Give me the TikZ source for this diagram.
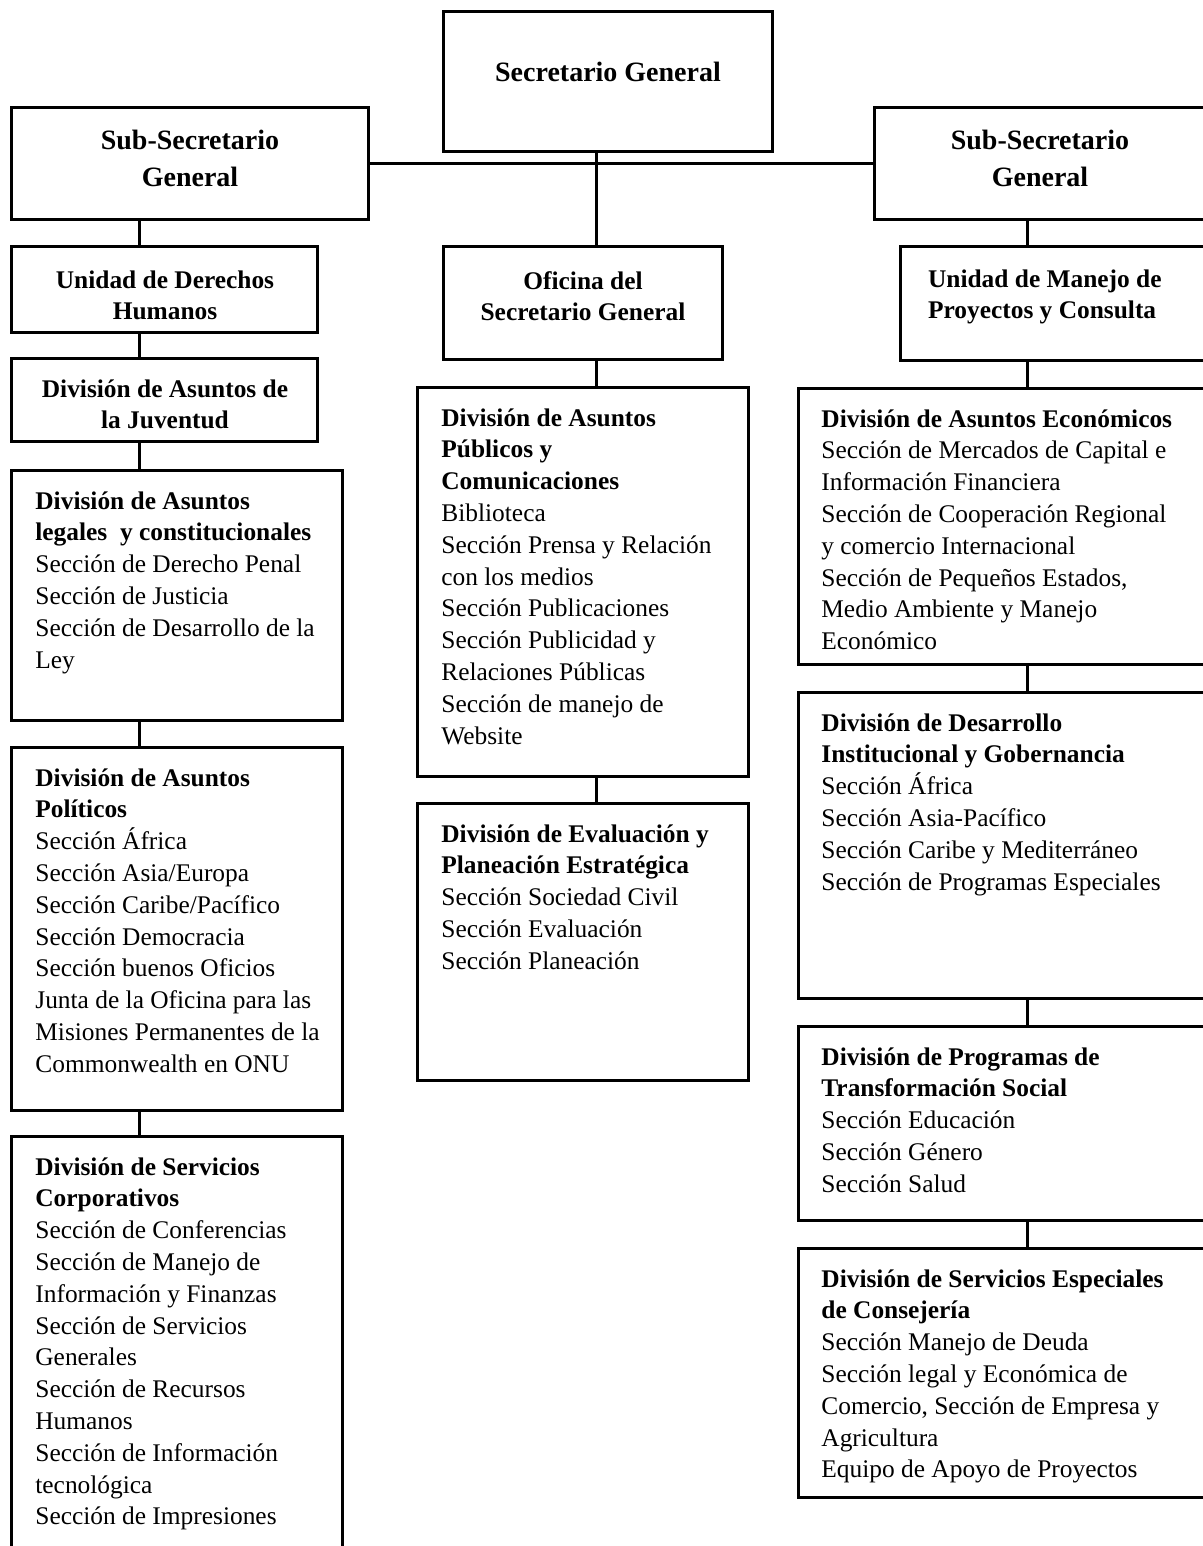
\documentclass[tikz,border=0pt]{standalone}
\usepackage{fontspec}
\setmainfont{Liberation Serif}
\colorlet{ink}{black}
\tikzset{
  orgbox/.style={
    draw=ink,
    line width=1.5pt,
    anchor=north west,
    inner sep=0pt,
    outer sep=0pt
  },
  link/.style={draw=ink, line width=1.5pt},
  headtext/.style={font=\fontsize{14}{18.5}\selectfont\bfseries, align=center, text=ink},
  unittext/.style={font=\fontsize{12.7}{15.5}\selectfont\bfseries, align=center, text=ink},
  listtext/.style={
    font=\fontsize{12.7}{15.9}\selectfont,
    align=left,
    anchor=north west,
    inner sep=0pt,
    text=ink
  }
}

\begin{document}
\begin{tikzpicture}[x=0.5pt,y=-0.5pt]
  \useasboundingbox (0,0) rectangle (1203,1546);
  \clip (0,0) rectangle (1203,1546);

  % top level
  \node[orgbox, minimum width=164.5pt, minimum height=70pt] (sg) at (443,12) {};
  \node[headtext] (sgT) at (608,72) {Secretario General};

  \node[orgbox, minimum width=178.5pt, minimum height=56pt] (ssgL) at (11,108) {};
  \node[headtext] (ssgLT) at (190,158) {Sub-Secretario\\General};
  \node[orgbox, minimum width=168pt, minimum height=56pt] (ssgR) at (874,108) {};
  \node[headtext] (ssgRT) at (1040,158) {Sub-Secretario\\General};

  % left column
  \node[orgbox, minimum width=153pt, minimum height=42.5pt] (udh) at (11,247) {};
  \node[unittext] (udhT) at (165,295) {Unidad de Derechos\\Humanos};
  \node[orgbox, minimum width=153pt, minimum height=41.5pt] (juv) at (11,358) {};
  \node[unittext] (juvT) at (165,404) {División de Asuntos de\\la Juventud};

  \node[orgbox, minimum width=165.5pt, minimum height=125pt] (legal) at (11,470) {};
  \node[listtext] (legalT) at ([xshift=12pt,yshift=-10.5pt]legal.north west)
    {\textbf{División de Asuntos}\\
     \textbf{legales\ \ y constitucionales}\\
     Sección de Derecho Penal\\
     Sección de Justicia\\
     Sección de Desarrollo de la\\
     Ley};

  \node[orgbox, minimum width=165.5pt, minimum height=181.5pt] (pol) at (11,747) {};
  \node[listtext] (polT) at ([xshift=12pt,yshift=-10.5pt]pol.north west)
    {\textbf{División de Asuntos}\\
     \textbf{Políticos}\\
     Sección África\\
     Sección Asia/Europa\\
     Sección Caribe/Pacífico\\
     Sección Democracia\\
     Sección buenos Oficios\\
     Junta de la Oficina para las\\
     Misiones Permanentes de la\\
     Commonwealth en ONU};

  \node[orgbox, minimum width=165.5pt, minimum height=210pt] (corp) at (11,1136) {};
  \node[listtext] (corpT) at ([xshift=12pt,yshift=-10.5pt]corp.north west)
    {\textbf{División de Servicios}\\
     \textbf{Corporativos}\\
     Sección de Conferencias\\
     Sección de Manejo de\\
     Información y Finanzas\\
     Sección de Servicios\\
     Generales\\
     Sección de Recursos\\
     Humanos\\
     Sección de Información\\
     tecnológica\\
     Sección de Impresiones};

  % middle column
  \node[orgbox, minimum width=139.5pt, minimum height=56pt] (ofi) at (443,247) {};
  \node[unittext] (ofiT) at (583,296) {Oficina del\\Secretario General};

  \node[orgbox, minimum width=165.5pt, minimum height=194.5pt] (pub) at (417,387) {};
  \node[listtext] (pubT) at ([xshift=12pt,yshift=-10.5pt]pub.north west)
    {\textbf{División de Asuntos}\\
     \textbf{Públicos y}\\
     \textbf{Comunicaciones}\\
     Biblioteca\\
     Sección Prensa y Relación\\
     con los medios\\
     Sección Publicaciones\\
     Sección Publicidad y\\
     Relaciones Públicas\\
     Sección de manejo de\\
     Website};

  \node[orgbox, minimum width=165.5pt, minimum height=138.5pt] (eva) at (417,803) {};
  \node[listtext] (evaT) at ([xshift=12pt,yshift=-10.5pt]eva.north west)
    {\textbf{División de Evaluación y}\\
     \textbf{Planeación Estratégica}\\
     Sección Sociedad Civil\\
     Sección Evaluación\\
     Sección Planeación};

  % right column
  \node[orgbox, minimum width=155pt, minimum height=56.5pt] (ump) at (900,247) {};
  \node[unittext, align=left, anchor=west] (umpT) at (921,297) {Unidad de Manejo de\\Proyectos y Consulta};

  \node[orgbox, minimum width=206pt, minimum height=138pt] (eco) at (798,388) {};
  \node[listtext] (ecoT) at ([xshift=11.5pt,yshift=-10.5pt]eco.north west)
    {\textbf{División de Asuntos Económicos}\\
     Sección de Mercados de Capital e\\
     Información Financiera\\
     Sección de Cooperación Regional\\
     y comercio Internacional\\
     Sección de Pequeños Estados,\\
     Medio Ambiente y Manejo\\
     Económico};

  \node[orgbox, minimum width=206pt, minimum height=153pt] (des) at (798,692) {};
  \node[listtext] (desT) at ([xshift=11.5pt,yshift=-10.5pt]des.north west)
    {\textbf{División de Desarrollo}\\
     \textbf{Institucional y Gobernancia}\\
     Sección África\\
     Sección Asia-Pacífico\\
     Sección Caribe y Mediterráneo\\
     Sección de Programas Especiales};

  \node[orgbox, minimum width=206pt, minimum height=97pt] (tra) at (798,1026) {};
  \node[listtext] (traT) at ([xshift=11.5pt,yshift=-10.5pt]tra.north west)
    {\textbf{División de Programas de}\\
     \textbf{Transformación Social}\\
     Sección Educación\\
     Sección Género\\
     Sección Salud};

  \node[orgbox, minimum width=206pt, minimum height=124.5pt] (cons) at (798,1248) {};
  \node[listtext] (consT) at ([xshift=11.5pt,yshift=-10.5pt]cons.north west)
    {\textbf{División de Servicios Especiales}\\
     \textbf{de Consejería}\\
     Sección Manejo de Deuda\\
     Sección legal y Económica de\\
     Comercio, Sección de Empresa y\\
     Agricultura\\
     Equipo de Apoyo de Proyectos};

  % connectors
  \coordinate (colL) at (139,0);
  \coordinate (colM) at (596,0);
  \coordinate (colR) at (1027,0);

  \draw[link] (ssgL.east) -- (ssgR.west);
  \draw[link] (sg.south -| colM) -- (ofi.north -| colM);
  \draw[link] (ofi.south -| colM) -- (pub.north -| colM);
  \draw[link] (pub.south -| colM) -- (eva.north -| colM);

  \draw[link] (ssgL.south -| colL) -- (udh.north -| colL);
  \draw[link] (udh.south -| colL) -- (juv.north -| colL);
  \draw[link] (juv.south -| colL) -- (legal.north -| colL);
  \draw[link] (legal.south -| colL) -- (pol.north -| colL);
  \draw[link] (pol.south -| colL) -- (corp.north -| colL);

  \draw[link] (ssgR.south -| colR) -- (ump.north -| colR);
  \draw[link] (ump.south -| colR) -- (eco.north -| colR);
  \draw[link] (eco.south -| colR) -- (des.north -| colR);
  \draw[link] (des.south -| colR) -- (tra.north -| colR);
  \draw[link] (tra.south -| colR) -- (cons.north -| colR);
\end{tikzpicture}
\end{document}
